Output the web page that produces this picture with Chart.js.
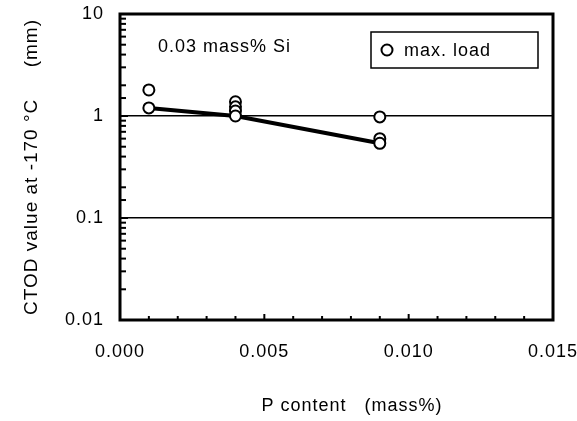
<!DOCTYPE html>
<html>
<head>
<meta charset="utf-8">
<script src="https://cdn.jsdelivr.net/npm/chart.js@4.4.0/dist/chart.umd.min.js"></script>
<style>
    html, body { margin: 0; padding: 0; background: #fff; }
    #wrap { width: 577px; height: 421px; }
</style>
</head>
<body>
<div id="wrap"><canvas id="ctodChart" width="577" height="421"></canvas></div>
<script>
// P content (mass%) of each specimen
const pContent = [0.001, 0.001, 0.004, 0.004, 0.004, 0.004, 0.009, 0.009, 0.009];
// CTOD value at -170 C (mm), max. load
const ctodValues = [1.8, 1.2, 1.38, 1.23, 1.12, 1.0, 0.98, 0.60, 0.54];
// trend line through the lowest results
const trendP = [0.001, 0.004, 0.009];
const trendCtod = [1.2, 1.0, 0.54];
// tick labels
const xTickLabels = [0.000, 0.005, 0.010, 0.015];
const yTickLabels = [0.01, 0.1, 1, 10];
const yGridValues = [0.1, 1];

const FONT = 'Arial, "Liberation Sans", sans-serif';

function near(a, b) {
    return Math.abs(a - b) < 1e-9;
}
function isPow10(v) {
    const e = Math.log10(v);
    return Math.abs(e - Math.round(e)) < 1e-9;
}

// Frame, inward tick marks, notes and legend
const decorations = {
    id: 'decorations',
    beforeDraw(chart) {
        chart.ctx.letterSpacing = '1px';
    },
    beforeDatasetsDraw(chart) {
        const { ctx, chartArea: a, scales } = chart;
        ctx.save();
        ctx.strokeStyle = '#000';
        ctx.lineWidth = 2;
        // left axis minor / major ticks
        scales.y.ticks.forEach(t => {
            const py = scales.y.getPixelForValue(t.value);
            const len = isPow10(t.value) ? 8 : 6;
            ctx.beginPath();
            ctx.moveTo(a.left, py);
            ctx.lineTo(a.left + len, py);
            ctx.stroke();
        });
        // bottom axis ticks
        scales.x.ticks.forEach(t => {
            const px = scales.x.getPixelForValue(t.value);
            const major = xTickLabels.some(v => near(v, t.value));
            const len = major ? 6 : 4;
            ctx.beginPath();
            ctx.moveTo(px, a.bottom);
            ctx.lineTo(px, a.bottom - len);
            ctx.stroke();
        });
        ctx.restore();
    },
    afterDraw(chart) {
        const { ctx, chartArea: a } = chart;
        ctx.save();
        ctx.letterSpacing = '1px';
        // plot frame
        ctx.strokeStyle = '#000';
        ctx.lineWidth = 3;
        ctx.strokeRect(a.left, a.top, a.right - a.left, a.bottom - a.top);

        ctx.fillStyle = '#000';
        ctx.font = '18px ' + FONT;
        ctx.textBaseline = 'middle';
        ctx.textAlign = 'left';
        ctx.fillText('0.03 mass% Si', a.left + 38, a.top + 33);

        // legend box
        const bx = a.left + 251, by = a.top + 18, bw = 167, bh = 36;
        ctx.lineWidth = 1.5;
        ctx.strokeRect(bx, by, bw, bh);
        ctx.beginPath();
        ctx.arc(bx + 16, by + bh / 2, 5.5, 0, Math.PI * 2);
        ctx.fillStyle = '#fff';
        ctx.fill();
        ctx.lineWidth = 2;
        ctx.stroke();
        ctx.fillStyle = '#000';
        ctx.fillText(chart.data.datasets[0].label, bx + 33, by + bh / 2 + 1);

        // x axis title
        ctx.textAlign = 'center';
        ctx.fillText('P content   (mass%)', 352, 406);
        ctx.restore();
    }
};

const ctx = document.getElementById('ctodChart').getContext('2d');
const ctodChart = new Chart(ctx, {
    data: {
        datasets: [{
            type: 'scatter',
            label: 'max. load',
            data: pContent.map((p, i) => ({ x: p, y: ctodValues[i] })),
            pointStyle: 'circle',
            pointRadius: 5.5,
            pointBorderWidth: 2,
            pointBackgroundColor: '#fff',
            pointBorderColor: '#000',
            order: 0
        }, {
            type: 'line',
            label: 'trend',
            data: trendP.map((p, i) => ({ x: p, y: trendCtod[i] })),
            borderColor: '#000',
            borderWidth: 4,
            pointRadius: 0,
            fill: false,
            order: 1
        }]
    },
    options: {
        responsive: false,
        animation: false,
        layout: {
            padding: 0
        },
        plugins: {
            legend: { display: false },
            tooltip: { enabled: false }
        },
        scales: {
            x: {
                type: 'linear',
                min: 0,
                max: 0.015,
                afterFit: s => {
                    s.height = 101;
                    s.paddingLeft = 0;
                    s.paddingRight = 24;
                },
                border: { display: false },
                grid: { display: false, drawTicks: false },
                ticks: {
                    stepSize: 0.001,
                    autoSkip: false,
                    maxRotation: 0,
                    padding: 21,
                    color: '#000',
                    font: { family: FONT, size: 18 },
                    callback: v => xTickLabels.some(t => near(t, v)) ? v.toFixed(3) : ''
                }
            },
            y: {
                type: 'logarithmic',
                min: 0.01,
                max: 10,
                afterFit: s => {
                    s.width = 120;
                    s.paddingTop = 14;
                    s.paddingBottom = 0;
                },
                border: { display: false },
                grid: {
                    drawTicks: false,
                    lineWidth: 1.5,
                    color: c => (c.tick && yGridValues.some(v => near(v, c.tick.value))) ? '#000' : 'rgba(0,0,0,0)'
                },
                ticks: {
                    autoSkip: false,
                    padding: 16,
                    color: '#000',
                    font: { family: FONT, size: 18 },
                    callback: v => yTickLabels.some(t => near(t, v)) ? String(v) : ''
                },
                title: {
                    display: true,
                    text: 'CTOD value at -170 °C     (mm)',
                    color: '#000',
                    font: { family: FONT, size: 19 },
                    padding: { top: 20, bottom: 0 }
                }
            }
        }
    },
    plugins: [decorations]
});
</script>
</body>
</html>
